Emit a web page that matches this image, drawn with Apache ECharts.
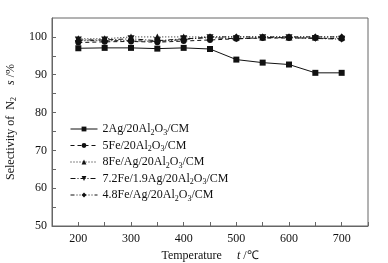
<!DOCTYPE html>
<html>
<head>
<meta charset="utf-8">
<script src="https://cdn.jsdelivr.net/npm/echarts@6/dist/echarts.min.js"></script>
<style>
  html, body { margin: 0; padding: 0; background: #fff; }
  #chart { width: 388px; height: 263px; }
</style>
</head>
<body>
<div id="chart"></div>
<script>
// temperatures (℃)
var temps = [200, 250, 300, 350, 400, 450, 500, 550, 600, 650, 700];

// selectivity of N2 (%)
var ag2 = [97.0, 97.1, 97.1, 96.9, 97.1, 96.8, 94.0, 93.2, 92.7, 90.5, 90.5];
var fe5 = [98.5, 98.7, 98.8, 98.6, 98.9, 99.2, 99.5, 99.7, 99.7, 99.7, 99.5];
var fe8ag = [99.5, 99.5, 100, 100, 100, 100, 100, 100, 100, 100, 100];
var fe72ag19 = [99.2, 99.2, 99.5, 99.0, 99.5, 99.8, 99.5, 99.8, 99.8, 99.6, 99.4];
var fe48ag = [99.0, 99.0, 99.0, 98.8, 99.3, 100, 100, 100, 100, 100, 100];

var names = [
    "2Ag/20Al2O3/CM",
    "5Fe/20Al2O3/CM",
    "8Fe/Ag/20Al2O3/CM",
    "7.2Fe/1.9Ag/20Al2O3/CM",
    "4.8Fe/Ag/20Al2O3/CM"
];

var serif = "Liberation Serif";
var ink = "#111";

function pairs(vals) {
    return temps.map(function (t, i) { return [t, vals[i]]; });
}

// turn "Al2O3" into rich text with subscripts
function subName(name) {
    return name.replace("Al2O3", "Al{s|2}O{s|3}");
}

function makeSeries(name, vals, symbol, dash, size) {
    return {
        name: name,
        type: "line",
        data: pairs(vals),
        symbol: symbol,
        symbolSize: size,
        color: ink,
        lineStyle: { color: ink, width: 1, type: dash },
        itemStyle: { color: ink },
        emphasis: { disabled: true },
        animation: false
    };
}

var chart = echarts.init(document.getElementById("chart"));

chart.setOption({
    backgroundColor: "#fff",
    grid: {
        left: 52, right: 20, top: 18, bottom: 37,
        outerBoundsMode: "none",
        show: true, borderColor: "#666", borderWidth: 1
    },
    legend: {
        orient: "vertical",
        left: 65,
        top: 118,
        itemWidth: 27,
        itemHeight: 6,
        itemGap: 3,
        data: names,
        lineStyle: { width: 1 },
        formatter: function (n) { return subName(n); },
        textStyle: {
            fontFamily: serif, fontSize: 12, color: ink,
            rich: {
                s: { fontFamily: serif, fontSize: 8, color: ink, padding: [7, 0, 0, 0] }
            }
        }
    },
    xAxis: {
        type: "value",
        min: 150, max: 750, interval: 50,
        name: "Temperature     {i|t} /℃",
        nameLocation: "middle",
        nameGap: 22,
        nameTextStyle: {
            fontFamily: serif, fontSize: 12, color: ink,
            rich: { i: { fontFamily: serif, fontSize: 12, fontStyle: "italic", color: ink } }
        },
        axisLine: { lineStyle: { color: "#666" } },
        axisTick: { inside: true, length: 4, lineStyle: { color: "#666" } },
        axisLabel: {
            fontFamily: serif, fontSize: 12, color: ink, margin: 7,
            formatter: function (v) { return v % 100 === 0 ? v : ""; }
        },
        splitLine: { show: false }
    },
    yAxis: {
        type: "value",
        min: 50, max: 105, interval: 5,
        name: "Selectivity of  N{s|2}    {i|s} /%",
        nameLocation: "middle",
        nameGap: 27,
        nameTextStyle: {
            fontFamily: serif, fontSize: 12, color: ink,
            rich: {
                i: { fontFamily: serif, fontSize: 12, fontStyle: "italic", color: ink },
                s: { fontFamily: serif, fontSize: 8, color: ink, padding: [7, 0, 0, 0] }
            }
        },
        axisLine: { show: true, lineStyle: { color: "#666" } },
        axisTick: { show: true, inside: true, length: 4, lineStyle: { color: "#666" } },
        axisLabel: {
            fontFamily: serif, fontSize: 12, color: ink, margin: 5,
            showMaxLabel: false,
            formatter: function (v) { return v % 10 === 0 ? v : ""; }
        },
        splitLine: { show: false }
    },
    series: [
        makeSeries(names[0], ag2, "rect", "solid", 6),
        makeSeries(names[1], fe5, "circle", [4, 3], 6),
        makeSeries(names[2], fe8ag, "triangle", [1, 2], 7),
        makeSeries(names[3], fe72ag19, "path://M0,0L10,0L5,9Z", [5, 2, 1, 2], 7),
        makeSeries(names[4], fe48ag, "diamond", [4, 2, 1, 2, 1, 2], 7)
    ]
});
</script>
</body>
</html>
